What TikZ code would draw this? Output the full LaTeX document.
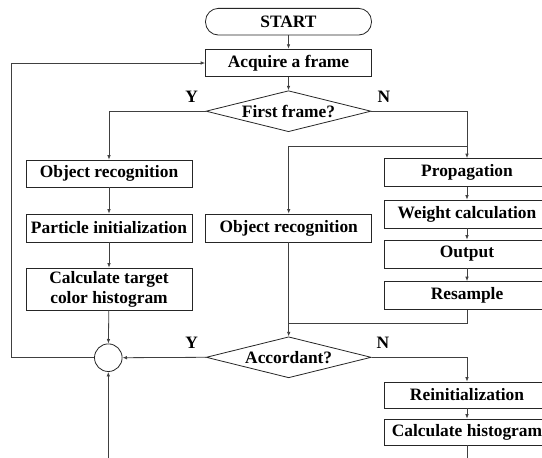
\documentclass[tikz,border=0pt]{standalone}
\usepackage{fontspec}
\setmainfont{Liberation Serif}
\usetikzlibrary{shapes.geometric,arrows.meta}
\begin{document}
\begin{tikzpicture}[x=1pt,y=-1pt,
  txt/.style={font=\fontsize{17.4}{20}\selectfont\bfseries},
  ln/.style={line width=0.8pt, draw=black!75},
  arr/.style={ln,-{Latex[length=4.5pt,width=3.6pt]}},
  box/.style={txt, draw=black!85, line width=0.8pt, minimum width=166pt, minimum height=27pt, inner sep=0pt, align=center},
  dec/.style={txt, diamond, draw=black!85, line width=0.8pt, minimum width=165pt, minimum height=41pt, inner sep=0pt},
  lab/.style={txt, inner sep=0pt}]
\useasboundingbox (0,0) rectangle (542,458);
\clip (0,0) rectangle (542,458);
\fill[white] (0,0) rectangle (542,458);

% top
\node[box, rounded corners=13pt, minimum height=26.7pt] (start) at (288.5,21.7) {START};
\node[box, minimum height=27.7pt] (acq) at (288.5,63) {Acquire a frame};
\node[dec] (first) at (288.5,111.2) {\makebox[0pt]{First frame?}};
\node[lab] (y1) at (191.7,96.7) {Y};
\node[lab] (n1) at (384,96.7) {N};

% left column
\node[box] (ob1) at (109,173.5) {Object recognition};
\node[box, minimum height=28pt] (pi) at (109,228) {Particle initialization};
\node[box, minimum height=42pt] (ct) at (109,289) {Calculate target\\color histogram};

% middle column
\node[box, minimum height=28pt] (ob2) at (288.7,228) {Object recognition};

% right column
\node[box, minimum height=28pt] (prop) at (467,172.5) {Propagation};
\node[box, minimum height=28pt] (wc) at (467,214) {Weight calculation};
\node[box, minimum height=28pt] (out) at (467,254) {Output};
\node[box, minimum height=28pt] (res) at (467,295.5) {Resample};

% lower part
\node[dec] (acc) at (288.7,357.3) {\makebox[0pt]{Accordant?}};
\node[circle, draw=black!85, line width=0.8pt, minimum size=27.6pt, inner sep=0pt] (circ) at (108.3,357.7) {};
\node[lab] (y2) at (191.7,343) {Y};
\node[lab] (n2) at (383,343) {N};
\node[box, minimum height=26pt] (rei) at (467,395) {Reinitialization};
\node[box, minimum height=26pt] (ch) at (467,432) {Calculate histogram};

% helper coordinates
\coordinate (m1) at (467,146.7);
\coordinate (m2) at (288.7,323.3);
\coordinate (lp) at (11.7,357.7);
\coordinate (bot1) at (108.3,470);
\coordinate (bot2) at (467,470);

% connectors
\draw[arr] (start) -- (acq);
\draw[arr] (acq) -- (first);
\draw[arr] (first.west) -| (ob1.north);
\draw[arr] (first.east) -| (prop.north);
\draw[arr] (m1) -| (ob2.north);
\draw[arr] (ob1) -- (pi);
\draw[arr] (pi) -- (ct);
\draw[arr] (ct) -- (circ);
\draw[arr] (prop) -- (wc);
\draw[arr] (wc) -- (out);
\draw[arr] (out) -- (res);
\draw[arr] (ob2) -- (acc);
\draw[ln] (res.south) |- (m2);
\draw[arr] (acc.west) -- (circ.east);
\draw[arr] (circ.west) -- (lp) |- (acq.west);
\draw[arr] (bot1) -- (circ.south);
\draw[arr] (acc.east) -| (rei.north);
\draw[arr] (rei) -- (ch);
\draw[ln] (ch.south) -- (bot2);
\end{tikzpicture}
\end{document}
